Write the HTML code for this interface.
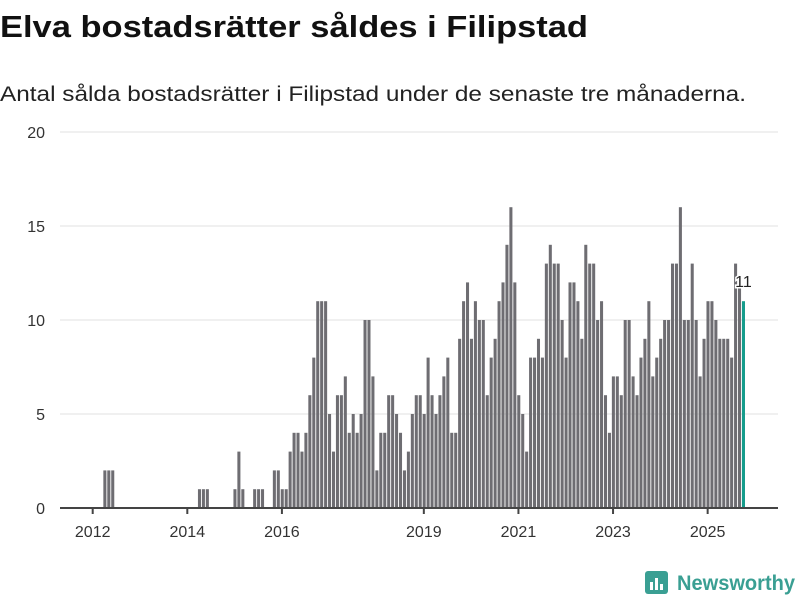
<!DOCTYPE html>
<html><head><meta charset="utf-8"><style>
html,body{margin:0;padding:0;background:#fff;width:800px;height:600px;overflow:hidden}
svg{display:block;font-family:"Liberation Sans","DejaVu Sans",sans-serif}
</style></head><body>
<svg id="chart" width="800" height="600" viewBox="0 0 800 600">
<text x="0" y="37" font-size="31" font-weight="bold" fill="#111" textLength="588" lengthAdjust="spacingAndGlyphs">Elva bostadsrätter såldes i Filipstad</text>
<text x="0" y="101" font-size="21" fill="#222" textLength="746" lengthAdjust="spacingAndGlyphs">Antal sålda bostadsrätter i Filipstad under de senaste tre månaderna.</text>
<g id="grid"></g><g id="bars"></g><g id="axis"></g>
<g>
<rect x="645" y="571" width="23" height="23" rx="3" fill="#3a9f93"/>
<rect x="650" y="582" width="3" height="8" fill="#fff"/><rect x="655" y="578" width="3" height="12" fill="#fff"/><rect x="660" y="584" width="3" height="6" fill="#fff"/>
<text x="677" y="590" font-size="21" font-weight="bold" fill="#3a9f93" textLength="118" lengthAdjust="spacingAndGlyphs">Newsworthy</text>
</g>
</svg>
<script>
const values = [2,2,2,
0,0,0,0,0,0,0,0,0,0,0,0,0,0,0,0,0,0,0,0,0,
1,1,1,0,0,0,0,0,0,1,3,1,0,0,1,1,1,0,0,
2,2,1,1,3,4,4,3,4,6,8,11,11,11,5,3,6,6,7,4,5,4,5,10,10,7,2,4,4,6,6,5,4,2,3,5,6,6,5,8,6,5,6,
7,8,4,4,9,11,12,9,11,10,10,6,8,9,11,12,14,16,12,6,5,3,8,8,9,8,13,14,13,13,10,8,12,12,11,9,14,13,
13,10,11,6,4,7,7,
6,10,10,7,6,8,9,11,7,8,9,10,10,13,13,16,10,10,13,10,7,9,11,11,10,9,9,9,8,13,12,11];
const firstMonth = 2; // months after Jan 2012 (Mar 2012)
const yTicks = [0,5,10,15,20];
const xTickYears = [2012,2014,2016,2019,2021,2023,2025];
const NS="http://www.w3.org/2000/svg";
const X0=92.7, MW=3.942, Y0=508, YS=18.8;
const xm = m => X0 + m*MW;
const y = v => Y0 - v*YS;
function el(t,a,p){const e=document.createElementNS(NS,t);for(const k in a)e.setAttribute(k,a[k]);p.appendChild(e);return e;}
const grid=document.getElementById('grid'),bars=document.getElementById('bars'),axis=document.getElementById('axis');
yTicks.forEach(v=>{
  if(v>0){const l=el('line',{x1:60,x2:778,y1:y(v),y2:y(v),stroke:'#e0e0e0','stroke-width':1},grid);
  
  }
  const t=el('text',{x:45,y:y(v)+6,'font-size':16,fill:'#333','text-anchor':'end'},grid);
  t.textContent=v;
  
  
});
values.forEach((v,i)=>{
  if(!v)return;
  const last=i===values.length-1;
  const r=el('rect',{x:xm(firstMonth+i+0.7),y:y(v),width:MW-0.9,height:v*YS,fill:last?'#159c8c':'#6e6d72'},bars);
  
  
});
const lv=values[values.length-1];
const lab=el('text',{x:xm(firstMonth+values.length-1+0.7)+1.5,y:y(lv)-14,'font-size':16,fill:'#222','text-anchor':'middle',stroke:'#fff','stroke-width':3,'paint-order':'stroke'},bars);
lab.textContent=lv;


const ax=el('line',{x1:60,x2:778,y1:Y0,y2:Y0,stroke:'#444','stroke-width':2},axis);


xTickYears.forEach(yr=>{
  const x=xm((yr-2012)*12);
  const tk=el('line',{x1:x,x2:x,y1:Y0,y2:Y0+6,stroke:'#444','stroke-width':2},axis);
  
  
  const t=el('text',{x:x,y:537,'font-size':16,fill:'#333','text-anchor':'middle'},axis);
  t.textContent=yr;
  
  
});
</script>
</body></html>
